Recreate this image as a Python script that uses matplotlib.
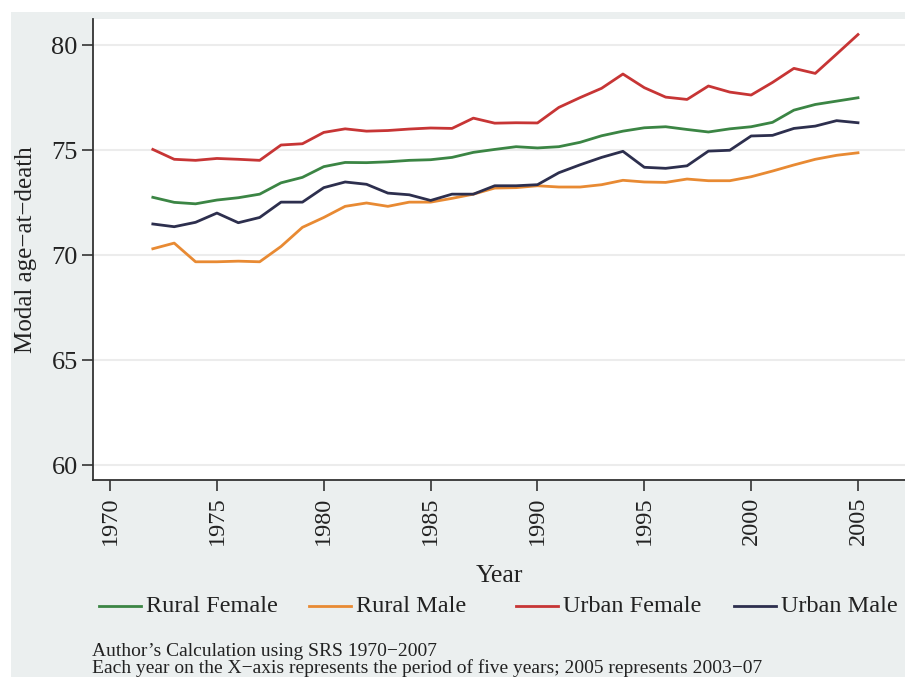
import numpy as np
import matplotlib
matplotlib.use("Agg")
import matplotlib.pyplot as plt
from matplotlib.patches import Rectangle
from matplotlib.lines import Line2D

years = list(range(1972, 2006))

rural_female = [72.75, 72.51, 72.44, 72.62, 72.73, 72.90, 73.44, 73.70, 74.21, 74.41,
                74.40, 74.44, 74.51, 74.54, 74.65, 74.89, 75.03, 75.16, 75.10, 75.16,
                75.37, 75.68, 75.90, 76.06, 76.11, 75.98, 75.86, 76.01, 76.11, 76.32,
                76.90, 77.17, 77.33, 77.49]
rural_male = [70.30, 70.57, 69.68, 69.68, 69.71, 69.68, 70.41, 71.32, 71.79, 72.32,
              72.48, 72.32, 72.52, 72.52, 72.70, 72.90, 73.19, 73.21, 73.30, 73.24,
              73.24, 73.35, 73.56, 73.48, 73.46, 73.62, 73.54, 73.54, 73.73, 74.00,
              74.29, 74.56, 74.75, 74.87]
urban_female = [75.03, 74.56, 74.51, 74.60, 74.56, 74.51, 75.24, 75.30, 75.84, 76.01,
                75.90, 75.93, 76.00, 76.05, 76.03, 76.52, 76.28, 76.30, 76.29, 77.03,
                77.50, 77.94, 78.62, 77.97, 77.52, 77.41, 78.05, 77.76, 77.62, 78.22,
                78.89, 78.65, 79.57, 80.50]
urban_male = [71.48, 71.35, 71.56, 72.00, 71.54, 71.79, 72.52, 72.52, 73.21, 73.48,
              73.37, 72.95, 72.87, 72.60, 72.90, 72.90, 73.30, 73.30, 73.35, 73.92,
              74.30, 74.65, 74.94, 74.18, 74.13, 74.25, 74.95, 74.99, 75.67, 75.70,
              76.03, 76.14, 76.40, 76.30]

series = [
    ("Rural Female", rural_female, "#3b8544"),
    ("Rural Male", rural_male, "#e88a33"),
    ("Urban Female", urban_female, "#c73535"),
    ("Urban Male", urban_male, "#2d2f4e"),
]

x_ticks = list(range(1970, 2006, 5))
y_ticks = [60, 65, 70, 75, 80]

W, H = 905, 677
plt.rcParams["font.family"] = ["Liberation Serif", "DejaVu Serif"]

fig = plt.figure(figsize=(W / 100, H / 100), dpi=100)
fig.patch.set_facecolor("white")
# grey outer background of the graph region
fig.add_artist(Rectangle((11 / W, 0), 1, 1 - 12 / H, transform=fig.transFigure,
                         facecolor="#ebefef", edgecolor="none", zorder=-1))

ax = fig.add_axes([93 / W, 1 - 480 / H, 1 - 93 / W, (480 - 19) / H])
ax.set_facecolor("white")

for name, vals, col in series:
    ax.plot(years, vals, color=col, lw=2, label=name)

ax.set_xlim(1969.2, 2007.2)
ax.set_ylim(59.29, 81.24)
ax.set_xticks(x_ticks)
ax.set_yticks(y_ticks)
ax.grid(axis="y", color="#ececec", lw=1.5)
ax.set_axisbelow(True)

for s in ["top", "right"]:
    ax.spines[s].set_visible(False)
for s in ["left", "bottom"]:
    ax.spines[s].set_color("#333333")
    ax.spines[s].set_linewidth(1.3)

ax.tick_params(axis="both", length=8, width=1.2, color="#333333",
               labelsize=19, labelcolor="#222222", pad=3)
ax.tick_params(axis="x", labelrotation=90, labelsize=17.5, pad=4)

ax.set_xlabel("Year", fontsize=18.5, color="#222222", labelpad=14)
ax.set_ylabel("Modal age\u2212at\u2212death", fontsize=18, color="#222222", labelpad=10)

# legend laid out in four equal columns like the original
col_x = [99, 309, 516, 734]
leg_y = 1 - 606 / H
for (name, vals, col), x0 in zip(series, col_x):
    fig.add_artist(Line2D([x0 / W, (x0 + 42) / W], [leg_y, leg_y], color=col, lw=2,
                          transform=fig.transFigure))
    fig.text((x0 + 47) / W, leg_y, name, fontsize=17.5, color="#222222",
             va="center", ha="left")

fig.text(92 / W, 1 - 652 / H, "Author\u2019s Calculation using SRS 1970\u22122007",
         fontsize=14, color="#222222", va="center")
fig.text(92 / W, 1 - 668 / H,
         "Each year on the X\u2212axis represents the period of five years; 2005 represents 2003\u221207",
         fontsize=14, color="#222222", va="center")

fig.savefig("out.png", dpi=100)
